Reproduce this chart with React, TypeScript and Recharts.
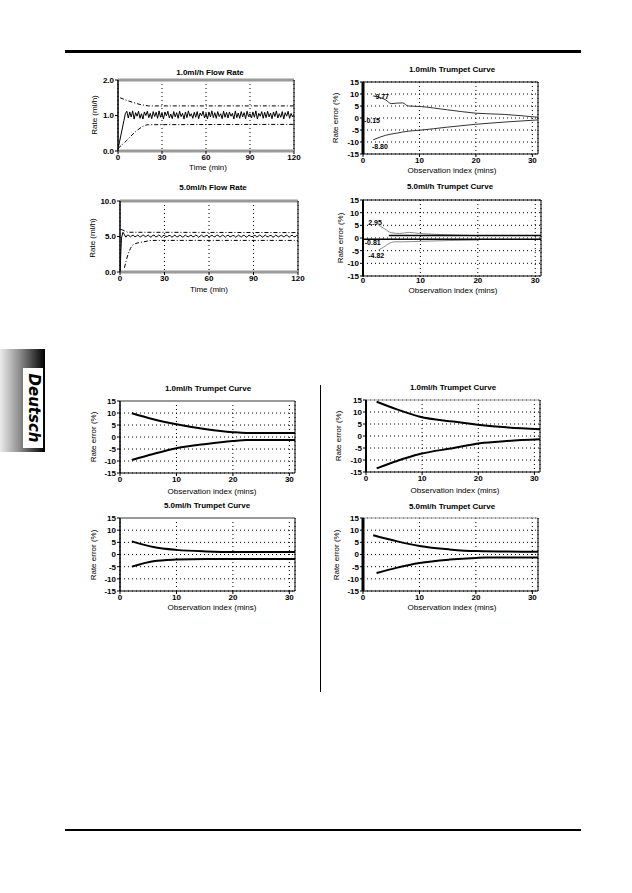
import {
  LineChart,
  Line,
  XAxis,
  YAxis,
  CartesianGrid,
  ReferenceLine,
  ReferenceDot,
} from "recharts";

const FONT = '"Liberation Sans", Arial, sans-serif';

// 1.0 ml/h flow rate, one reading per minute (0..120)
const flow1Rate = [
  0.05, 0.25, 0.45, 0.65, 0.85, 1.05, 1.12, 0.93, 1.1, 0.96,
  1.13, 0.9, 1.08, 0.98, 1.12, 0.92, 1.05, 0.9, 1.1, 1.0,
  1.12, 0.94, 1.06, 0.91, 1.11, 0.97, 1.09, 0.92, 1.13, 0.95,
  1.07, 0.9, 1.1, 0.99, 1.12, 0.93, 1.04, 0.91, 1.11, 0.96,
  1.08, 0.92, 1.12, 0.97, 1.06, 0.9, 1.1, 0.94, 1.13, 0.98,
  1.05, 0.92, 1.09, 0.95, 1.11, 0.91, 1.07, 0.99, 1.12, 0.93,
  1.06, 0.9, 1.1, 0.96, 1.13, 0.94, 1.08, 0.92, 1.11, 0.97,
  1.05, 0.91, 1.12, 0.95, 1.09, 0.93, 1.1, 0.98, 1.06, 0.9,
  1.13, 0.94, 1.07, 0.92, 1.11, 0.96, 1.08, 0.91, 1.12, 0.97,
  1.05, 0.93, 1.1, 0.95, 1.13, 0.9, 1.06, 0.98, 1.11, 0.92,
  1.09, 0.94, 1.12, 0.96, 1.07, 0.91, 1.1, 0.97, 1.13, 0.93,
  1.05, 0.95, 1.11, 0.9, 1.08, 0.98, 1.12, 0.92, 1.06, 0.96,
  1.04,
];
const flow1Upper = [[1.4, 1.5], [5, 1.44], [10, 1.37], [15, 1.31], [20.7, 1.27], [120, 1.27]];
const flow1Lower = [[0, 0.07], [6, 0.3], [12.7, 0.57], [20.7, 0.74], [120, 0.75]];

// 5.0 ml/h flow rate, one reading per minute (0..120)
const flow5Rate = [
  0.1, 4.8, 5.6, 5.25, 4.9, 5.2, 5.15, 4.95, 5.1, 5.2,
  4.95, 5.05, 5.2, 5.0, 4.95, 5.15, 5.2, 4.95, 5.05, 5.2,
  5.0, 4.9, 5.15, 5.2, 4.95, 5.0, 5.2, 5.1, 4.9, 5.1,
  5.2, 4.95, 5.0, 5.15, 5.1, 4.9, 5.05, 5.2, 5.0, 4.95,
  5.15, 5.15, 4.9, 5.0, 5.2, 5.05, 4.95, 5.1, 5.2, 4.95,
  5.0, 5.2, 5.1, 4.9, 5.05, 5.2, 5.0, 4.95, 5.15, 5.15,
  4.9, 5.05, 5.2, 5.0, 4.95, 5.15, 5.2, 4.95, 5.0, 5.2,
  5.1, 4.9, 5.1, 5.2, 4.95, 5.0, 5.15, 5.1, 4.9, 5.05,
  5.2, 5.0, 4.95, 5.15, 5.15, 4.9, 5.0, 5.2, 5.05, 4.95,
  5.1, 5.2, 4.95, 5.0, 5.2, 5.1, 4.9, 5.05, 5.2, 5.0,
  4.95, 5.15, 5.15, 4.9, 5.0, 5.2, 5.05, 4.95, 5.1, 5.2,
  4.95, 5.0, 5.2, 5.1, 4.9, 5.05, 5.2, 5.0, 4.95, 5.15,
  5.1,
];
const flow5Upper = [[0.7, 6.0], [3, 5.8], [5, 5.6], [120, 5.55]];
const flow5Lower = [[3, 0.6], [5.6, 2.6], [9.4, 3.9], [16, 4.25], [22, 4.45], [120, 4.45]];

// trumpet curves: [observation index, rate error %]
const trumpetA1Upper = [[1.8, 9.2], [3, 8.5], [4, 7.6], [5, 6.0], [6, 6.2], [7, 6.3], [8, 5.0], [10, 4.8], [15, 3.4], [20, 2.0], [25, 1.5], [31, 0.3]];
const trumpetA1Lower = [[1.8, -9.1], [3, -8.0], [4, -7.2], [6, -6.3], [8, -5.5], [10, -5.1], [15, -3.8], [20, -2.6], [25, -1.7], [31, -0.8]];

const trumpetA5Upper = [[2.7, 5.1], [3.8, 3.6], [4.9, 2.1], [6.4, 1.8], [8.1, 2.2], [9.8, 1.8], [15.6, 1.2], [19.7, 0.9]];
const trumpetA5Lower = [[2.7, -4.7], [3.6, -3.6], [4.5, -2.2], [5.5, -1.5], [7, -1.5], [10, -1.3], [15, -1.0], [20, -0.8]];
const trumpetA5MaxLine = [[4.5, 1.0], [31, 1.0]];
const trumpetA5MeanLine = [[0, -0.5], [31, -0.5]];

const trumpetB1Upper = [[2.1, 9.9], [5.9, 7.4], [10, 5.3], [15.3, 3.2], [20, 2.0], [22.4, 1.7], [31, 1.7]];
const trumpetB1Lower = [[2.1, -9.6], [5.9, -7.1], [10, -4.7], [15.3, -2.9], [20, -1.7], [22.4, -1.3], [31, -1.3]];

const trumpetC1Upper = [[1.9, 14.3], [5.5, 11.1], [9.6, 8.0], [15.6, 6.0], [20.3, 4.6], [25, 3.6], [31, 2.8]];
const trumpetC1Lower = [[1.9, -13.5], [5.5, -10.4], [9.6, -7.5], [15.6, -5.0], [20.3, -3.0], [25, -2.1], [31, -1.4]];

const trumpetB5Upper = [[2.1, 5.4], [5.9, 3.1], [10, 1.9], [15.3, 1.25], [20, 1.0], [31, 1.0]];
const trumpetB5Lower = [[2.1, -5.0], [5.9, -2.8], [10, -2.1], [15.3, -1.8], [20, -1.8], [31, -1.8]];

const trumpetC5Upper = [[1.8, 7.9], [5.9, 5.5], [10, 3.5], [15.3, 2.1], [20, 1.4], [31, 1.1]];
const trumpetC5Lower = [[2.4, -7.6], [5.9, -5.5], [10, -3.5], [15.3, -2.1], [20, -1.4], [21.8, -1.25], [31, -1.25]];

const flowTicks = [0, 30, 60, 90, 120];
const trumpetXTicks = [0, 10, 20, 30];
const trumpetYTicks = [-15, -10, -5, 0, 5, 10, 15];

const pts = (a: number[][]) => a.map(([x, y]) => ({ x, y }));
const series = (a: number[]) => a.map((y, x) => ({ x, y }));

const tickStyle = { fontSize: 8, fontWeight: 700, fill: "#000", fontFamily: FONT };

type Txt = { text: string; x: number; y: number; rot?: boolean; bold?: boolean; size?: number };

function PageText({ text, x, y, rot, bold, size }: Txt) {
  return (
    <div
      style={{
        position: "absolute",
        left: x,
        top: y,
        transform: `translate(-50%, -50%)${rot ? " rotate(-90deg)" : ""}`,
        whiteSpace: "nowrap",
        fontFamily: FONT,
        fontSize: size ?? 8,
        fontWeight: bold ? 700 : 400,
        lineHeight: 1,
        color: "#000",
      }}
    >
      {text}
    </div>
  );
}

type Box = { x1: number; y1: number; x2: number; y2: number };
type S = { data: { x: number; y: number }[]; color: string; width: number; dash?: string; smooth?: boolean };
type Note = { x: number; y: number; text: string };

function Panel({
  box,
  xDomain,
  xTicks,
  yDomain,
  yTicks,
  yFmt,
  lines,
  notes = [],
  horizontalGrid,
  frameTop,
  frameBottom,
  axisW,
  xTickGap = 3,
}: {
  box: Box;
  xDomain: number[];
  xTicks: number[];
  yDomain: number[];
  yTicks: number[];
  yFmt?: (v: number) => string;
  lines: S[];
  notes?: Note[];
  horizontalGrid: boolean;
  frameTop: { color: string; width: number };
  frameBottom: { color: string; width: number };
  axisW: number;
  xTickGap?: number;
}) {
  const YW = 26;
  const MT = 3;
  const MR = 12;
  const XH = 14;
  const w = box.x2 - box.x1 + YW + MR;
  const h = box.y2 - box.y1 + MT + XH;
  return (
    <div style={{ position: "absolute", left: box.x1 - YW, top: box.y1 - MT }}>
      <LineChart width={w} height={h} margin={{ top: MT, right: MR, bottom: 0, left: 0 }}>
        <CartesianGrid strokeDasharray="1 3" stroke="#000" horizontal={horizontalGrid} />
        <XAxis
          type="number"
          dataKey="x"
          domain={xDomain}
          ticks={xTicks}
          interval={0}
          allowDataOverflow
          height={XH}
          tick={tickStyle}
          tickSize={xTickGap}
          tickMargin={0}
          tickLine={{ stroke: "#000" }}
          axisLine={{ stroke: frameBottom.color, strokeWidth: frameBottom.width }}
        />
        <YAxis
          type="number"
          domain={yDomain}
          ticks={yTicks}
          interval={0}
          allowDataOverflow
          width={YW}
          tick={tickStyle}
          tickSize={3}
          tickMargin={1}
          tickFormatter={yFmt}
          tickLine={{ stroke: "#000" }}
          axisLine={{ stroke: "#000", strokeWidth: axisW }}
        />
        <ReferenceLine y={yDomain[1]} stroke={frameTop.color} strokeWidth={frameTop.width} />
        <ReferenceLine x={xDomain[1]} stroke="#000" strokeWidth={1} />
        {lines.map((s, i) => (
          <Line
            key={i}
            data={s.data}
            dataKey="y"
            type={s.smooth ? "monotone" : "linear"}
            stroke={s.color}
            strokeWidth={s.width}
            strokeDasharray={s.dash}
            dot={false}
            isAnimationActive={false}
          />
        ))}
        {notes.map((n, i) => (
          <ReferenceDot
            key={`n${i}`}
            x={n.x}
            y={n.y}
            r={0.5}
            fill="none"
            stroke="none"
            label={{ value: n.text, position: "center", fontSize: 7, fontWeight: 700, fill: "#000", fontFamily: FONT }}
          />
        ))}
      </LineChart>
    </div>
  );
}

const fmt1 = (v: number) => v.toFixed(1);
const black = (data: number[][], width = 2): S => ({ data: pts(data), color: "#000", width, smooth: true });

function FlowPanel(props: { box: Box; yMax: number; yTicks: number[]; rate: number[]; upper: number[][]; lower: number[][] }) {
  return (
    <Panel
      box={props.box}
      xDomain={[0, 120]}
      xTicks={flowTicks}
      yDomain={[0, props.yMax]}
      yTicks={props.yTicks}
      yFmt={fmt1}
      horizontalGrid={false}
      frameTop={{ color: "#9a9a9a", width: 3 }}
      frameBottom={{ color: "#9a9a9a", width: 3 }}
      axisW={1.5}
      lines={[
        { data: pts(props.upper), color: "#000", width: 1, dash: "4 2 1 2" },
        { data: pts(props.lower), color: "#000", width: 1, dash: "4 2 1 2", smooth: true },
        { data: series(props.rate), color: "#000", width: 1 },
      ]}
    />
  );
}

function TrumpetPanel(props: {
  box: Box;
  lines: S[];
  notes?: Note[];
  top: { color: string; width: number };
  axisW: number;
  xTickGap?: number;
}) {
  return (
    <Panel
      box={props.box}
      xDomain={[0, 31]}
      xTicks={trumpetXTicks}
      yDomain={[-15, 15]}
      yTicks={trumpetYTicks}
      horizontalGrid
      frameTop={props.top}
      frameBottom={{ color: "#000", width: 1 }}
      axisW={props.axisW}
      lines={props.lines}
      notes={props.notes}
      xTickGap={props.xTickGap}
    />
  );
}

const texts: Txt[] = [
  { text: "1.0ml/h Flow Rate", x: 210, y: 73, bold: true },
  { text: "Rate (ml/h)", x: 95, y: 115, rot: true },
  { text: "Time (min)", x: 208, y: 168 },
  { text: "1.0ml/h Trumpet Curve", x: 452, y: 70, bold: true },
  { text: "Rate error (%)", x: 336, y: 118, rot: true },
  { text: "Observation index (mins)", x: 452, y: 171 },
  { text: "5.0ml/h Flow Rate", x: 213, y: 188, bold: true },
  { text: "Rate (ml/h)", x: 93, y: 238, rot: true },
  { text: "Time (min)", x: 209, y: 290 },
  { text: "5.0ml/h Trumpet Curve", x: 450, y: 187, bold: true },
  { text: "Rate error (%)", x: 341, y: 238, rot: true },
  { text: "Observation index (mins)", x: 453, y: 291 },
  { text: "1.0ml/h Trumpet Curve", x: 208, y: 389, bold: true },
  { text: "Rate error (%)", x: 94, y: 437, rot: true },
  { text: "Observation index (mins)", x: 212, y: 492 },
  { text: "1.0ml/h Trumpet Curve", x: 453, y: 388, bold: true },
  { text: "Rate error (%)", x: 339, y: 436, rot: true },
  { text: "Observation index (mins)", x: 455, y: 491 },
  { text: "5.0ml/h Trumpet Curve", x: 207, y: 506, bold: true },
  { text: "Rate error (%)", x: 94, y: 555, rot: true },
  { text: "Observation index (mins)", x: 212, y: 608 },
  { text: "5.0ml/h Trumpet Curve", x: 452, y: 507, bold: true },
  { text: "Rate error (%)", x: 337, y: 555, rot: true },
  { text: "Observation index (mins)", x: 452, y: 608 },
];

export default function App() {
  return (
    <div
      style={{
        position: "absolute",
        left: 0,
        top: 0,
        width: 632,
        height: 893,
        background: "#fff",
        overflow: "hidden",
      }}
    >
      {/* page rules */}
      <div style={{ position: "absolute", left: 65, top: 50, width: 516, height: 3, background: "#000" }} />
      <div style={{ position: "absolute", left: 65, top: 829, width: 516, height: 2, background: "#000" }} />
      <div style={{ position: "absolute", left: 320, top: 385, width: 1, height: 307, background: "#000" }} />

      {/* language tab */}
      <div
        style={{
          position: "absolute",
          left: 0,
          top: 349,
          width: 45,
          height: 103,
          background: "linear-gradient(to right, #ececec, #8a8a8a 45%, #000)",
        }}
      />
      <div style={{ position: "absolute", left: 23, top: 368, width: 20, height: 80, background: "#fff" }} />
      <div
        style={{
          position: "absolute",
          left: 33,
          top: 408,
          transform: "translate(-50%, -50%) rotate(90deg)",
          fontFamily: '"DejaVu Sans", sans-serif',
          fontWeight: 900,
          fontStyle: "italic",
          fontSize: 15,
          lineHeight: 1,
          whiteSpace: "nowrap",
          color: "#000",
        }}
      >
        Deutsch
      </div>

      <FlowPanel box={{ x1: 118, y1: 80, x2: 294, y2: 151 }} yMax={2} yTicks={[0, 1, 2]} rate={flow1Rate} upper={flow1Upper} lower={flow1Lower} />
      <FlowPanel box={{ x1: 120, y1: 201, x2: 298, y2: 272 }} yMax={10} yTicks={[0, 5, 10]} rate={flow5Rate} upper={flow5Upper} lower={flow5Lower} />

      <TrumpetPanel
        box={{ x1: 363, y1: 82, x2: 538, y2: 154 }}
        top={{ color: "#000", width: 1 }}
        axisW={3}
        lines={[
          { data: pts(trumpetA1Upper), color: "#333", width: 1, smooth: true },
          { data: pts(trumpetA1Lower), color: "#333", width: 1, smooth: true },
        ]}
        notes={[
          { x: 3.4, y: 8.8, text: "9.77" },
          { x: 1.6, y: -1.2, text: "-0.15" },
          { x: 3.0, y: -11.7, text: "-8.80" },
        ]}
      />
      <TrumpetPanel
        box={{ x1: 363, y1: 200, x2: 541, y2: 276 }}
        top={{ color: "#000", width: 1 }}
        axisW={2}
        xTickGap={1}
        lines={[
          { data: pts(trumpetA5Upper), color: "#8a8a8a", width: 1, smooth: true },
          { data: pts(trumpetA5Lower), color: "#8a8a8a", width: 1, smooth: true },
          { data: pts(trumpetA5MaxLine), color: "#000", width: 1.5 },
          { data: pts(trumpetA5MeanLine), color: "#000", width: 1.5 },
        ]}
        notes={[
          { x: 2.1, y: 6.3, text: "2.95" },
          { x: 1.7, y: -1.6, text: "-0.81" },
          { x: 2.3, y: -6.8, text: "-4.82" },
        ]}
      />
      <TrumpetPanel
        box={{ x1: 120, y1: 401, x2: 295, y2: 473 }}
        top={{ color: "#9a9a9a", width: 2 }}
        axisW={1.5}
        lines={[black(trumpetB1Upper), black(trumpetB1Lower)]}
      />
      <TrumpetPanel
        box={{ x1: 366, y1: 400, x2: 540, y2: 472 }}
        top={{ color: "#9a9a9a", width: 1 }}
        axisW={2}
        lines={[black(trumpetC1Upper), black(trumpetC1Lower)]}
      />
      <TrumpetPanel
        box={{ x1: 120, y1: 518, x2: 295, y2: 591 }}
        top={{ color: "#9a9a9a", width: 2 }}
        axisW={1.5}
        lines={[black(trumpetB5Upper), black(trumpetB5Lower)]}
      />
      <TrumpetPanel
        box={{ x1: 363, y1: 518, x2: 538, y2: 591 }}
        top={{ color: "#9a9a9a", width: 1 }}
        axisW={3}
        lines={[black(trumpetC5Upper), black(trumpetC5Lower)]}
      />

      {texts.map((t, i) => (
        <PageText key={i} {...t} />
      ))}
    </div>
  );
}
